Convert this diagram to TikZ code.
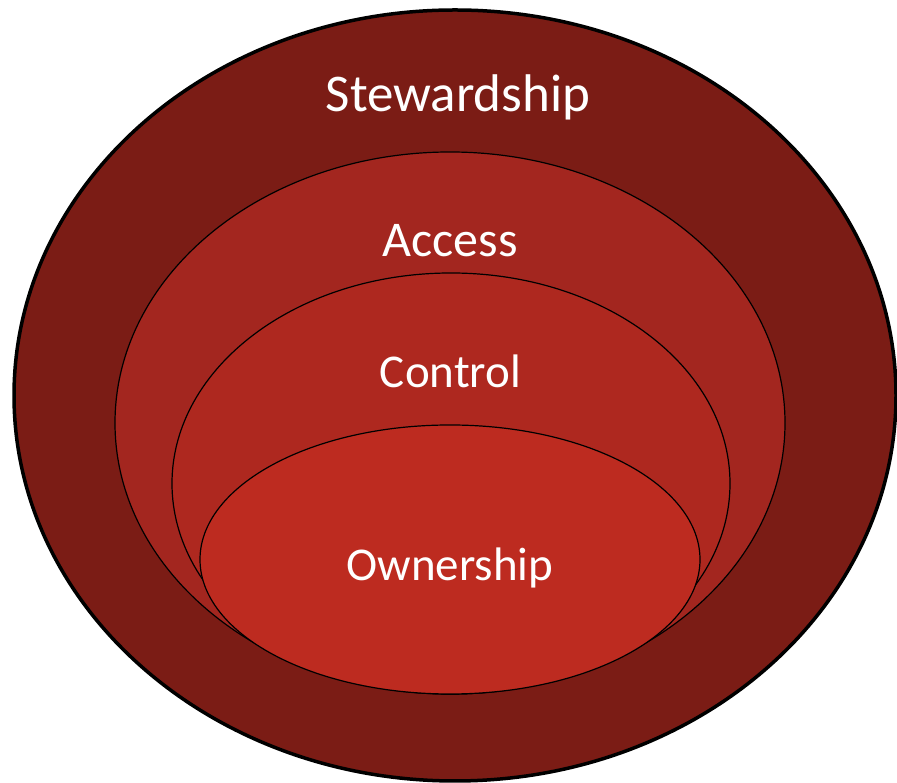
\documentclass[tikz,border=0pt]{standalone}
\usepackage{fontspec}
\setmainfont{Carlito}
\definecolor{cOuter}{RGB}{123,28,21}
\definecolor{cAccess}{RGB}{163,38,31}
\definecolor{cControl}{RGB}{174,40,31}
\definecolor{cOwn}{RGB}{189,43,32}
\begin{document}
\begin{tikzpicture}[x=1pt,y=1pt,
  lbl/.style={text=white,anchor=base,inner sep=0pt},
  ring/.style={draw=black,line width=1.2pt}]
\useasboundingbox (0,0) rectangle (897,783);
\clip (0,0) rectangle (897,783);
\fill[white] (0,0) rectangle (897,783);
\filldraw[fill=cOuter,draw=black,line width=3.5pt] (455,387.5) ellipse [x radius=441,y radius=385.5];
\filldraw[ring,fill=cAccess] (450,360) ellipse [x radius=335,y radius=271];
\filldraw[ring,fill=cControl] (451,299.5) ellipse [x radius=279,y radius=210.5];
\filldraw[ring,fill=cOwn] (450,223.5) ellipse [x radius=250,y radius=134.5];
\node[lbl,font=\fontsize{53}{60}\selectfont] (stew) at (458,671) {Stewardship};
\node[lbl,font=\fontsize{50}{60}\selectfont] (access) at (450,526) {Access};
\node[lbl,font=\fontsize{47}{60}\selectfont] (control) at (450.5,395) {Control};
\node[lbl,font=\fontsize{47}{60}\selectfont] (own) at (450,202) {Ownership};
\end{tikzpicture}
\end{document}
